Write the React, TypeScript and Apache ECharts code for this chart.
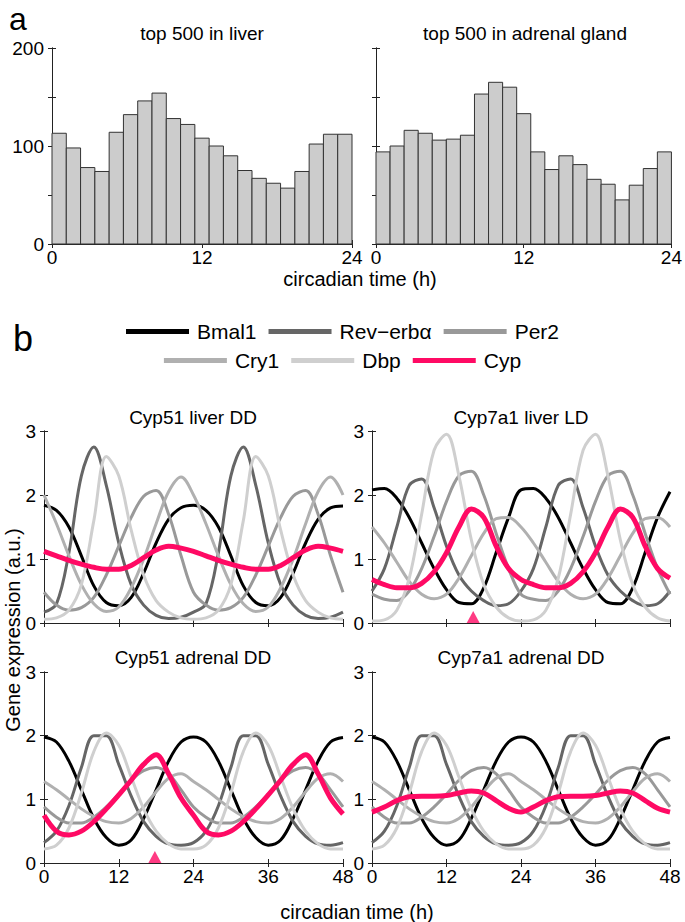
import React, { useEffect, useRef } from "react";
import * as echarts from "echarts";

const FONT = "'Liberation Sans', Arial, Helvetica, sans-serif";
const PINK = "#ff0a64";
const AXIS = "#222222";

// ---------- panel a : histograms (21 bins over 0-24 h) ----------
const liverCounts = [113, 98, 78, 74, 114, 132, 146, 154, 128, 122, 108, 100, 90, 75, 67, 62, 57, 74, 102, 112, 112];
const adrenalCounts = [94, 100, 116, 113, 106, 107, 111, 153, 165, 160, 133, 94, 76, 90, 81, 66, 61, 45, 60, 77, 94];

// ---------- panel b : expression profiles, sampled every 2 h ----------
const hours = [0, 2, 4, 6, 8, 10, 12, 14, 16, 18, 20, 22, 24, 26, 28, 30, 32, 34, 36, 38, 40, 42, 44, 46, 48];

const liverDDBmal1 = [1.84, 1.76, 1.5, 1.05, 0.58, 0.32, 0.27, 0.4, 0.78, 1.25, 1.62, 1.8, 1.84, 1.76, 1.5, 1.05, 0.58, 0.32, 0.27, 0.4, 0.78, 1.25, 1.62, 1.8, 1.83];
const liverDDRev = [0.17, 0.3, 1.1, 2.3, 2.75, 2.15, 1.25, 0.6, 0.28, 0.12, 0.07, 0.09, 0.17, 0.3, 1.1, 2.3, 2.75, 2.15, 1.25, 0.6, 0.28, 0.12, 0.07, 0.09, 0.17];
const liverDDPer2 = [0.48, 0.28, 0.2, 0.24, 0.4, 0.75, 1.2, 1.65, 1.98, 2.07, 1.7, 1.05, 0.48, 0.28, 0.2, 0.24, 0.4, 0.75, 1.2, 1.65, 1.98, 2.07, 1.7, 1.05, 0.48];
const liverDDCry1 = [2.0, 1.55, 1.05, 0.6, 0.3, 0.18, 0.25, 0.55, 1.0, 1.55, 2.05, 2.28, 2.0, 1.55, 1.05, 0.6, 0.3, 0.18, 0.25, 0.55, 1.0, 1.55, 2.05, 2.28, 2.0];
const liverDDDbp = [0.06, 0.08, 0.2, 0.6, 1.6, 2.6, 2.3, 1.45, 0.75, 0.35, 0.17, 0.08, 0.06, 0.08, 0.2, 0.6, 1.6, 2.6, 2.3, 1.45, 0.75, 0.35, 0.17, 0.08, 0.06];
const liverDDCyp51 = [1.12, 1.05, 0.98, 0.92, 0.87, 0.84, 0.84, 0.9, 1.02, 1.14, 1.2, 1.17, 1.12, 1.05, 0.98, 0.92, 0.87, 0.84, 0.84, 0.9, 1.02, 1.14, 1.2, 1.17, 1.12];

const liverLDBmal1 = [2.08, 2.1, 1.95, 1.65, 1.25, 0.85, 0.52, 0.32, 0.3, 0.55, 1.1, 1.65, 2.08, 2.1, 1.95, 1.65, 1.25, 0.85, 0.52, 0.32, 0.3, 0.55, 1.1, 1.65, 2.05];
const liverLDRev = [0.5, 0.85, 1.5, 2.15, 2.25, 1.8, 1.2, 0.75, 0.5, 0.35, 0.27, 0.3, 0.5, 0.85, 1.5, 2.15, 2.25, 1.8, 1.2, 0.75, 0.5, 0.35, 0.27, 0.3, 0.5];
const liverLDPer2 = [0.45, 0.37, 0.35, 0.5, 0.85, 1.35, 1.9, 2.3, 2.37, 2.0, 1.4, 0.85, 0.45, 0.37, 0.35, 0.5, 0.85, 1.35, 1.9, 2.3, 2.37, 2.0, 1.4, 0.85, 0.45];
const liverLDCry1 = [1.5, 1.25, 0.95, 0.65, 0.45, 0.38, 0.45, 0.7, 1.05, 1.4, 1.63, 1.65, 1.5, 1.25, 0.95, 0.65, 0.45, 0.38, 0.45, 0.7, 1.05, 1.4, 1.63, 1.65, 1.5];
const liverLDDbp = [0.03, 0.05, 0.2, 0.7, 1.7, 2.7, 2.95, 2.3, 1.3, 0.6, 0.25, 0.08, 0.03, 0.05, 0.2, 0.7, 1.7, 2.7, 2.95, 2.3, 1.3, 0.6, 0.25, 0.08, 0.03];
const liverLDCyp7a1 = [0.68, 0.6, 0.55, 0.55, 0.62, 0.8, 1.1, 1.5, 1.78, 1.65, 1.2, 0.85, 0.68, 0.6, 0.55, 0.55, 0.62, 0.8, 1.1, 1.5, 1.78, 1.65, 1.2, 0.85, 0.7];

const adrenalBmal1 = [1.98, 1.9, 1.6, 1.15, 0.7, 0.4, 0.28, 0.36, 0.7, 1.15, 1.6, 1.9, 1.98, 1.9, 1.6, 1.15, 0.7, 0.4, 0.28, 0.36, 0.7, 1.15, 1.6, 1.9, 1.97];
const adrenalRev = [0.32, 0.5, 0.9, 1.5, 2.0, 2.0, 1.55, 1.05, 0.65, 0.42, 0.3, 0.28, 0.32, 0.5, 0.9, 1.5, 2.0, 2.0, 1.55, 1.05, 0.65, 0.42, 0.3, 0.28, 0.32];
const adrenalPer2 = [0.88, 0.72, 0.63, 0.63, 0.72, 0.88, 1.08, 1.3, 1.45, 1.5, 1.4, 1.15, 0.88, 0.72, 0.63, 0.63, 0.72, 0.88, 1.08, 1.3, 1.45, 1.5, 1.4, 1.15, 0.88];
const adrenalCry1 = [1.28, 1.15, 1.0, 0.85, 0.73, 0.65, 0.63, 0.7, 0.88, 1.12, 1.33, 1.4, 1.28, 1.15, 1.0, 0.85, 0.73, 0.65, 0.63, 0.7, 0.88, 1.12, 1.33, 1.4, 1.28];
const adrenalDbp = [0.22, 0.28, 0.55, 1.1, 1.75, 2.04, 1.85, 1.35, 0.85, 0.5, 0.3, 0.22, 0.22, 0.28, 0.55, 1.1, 1.75, 2.04, 1.85, 1.35, 0.85, 0.5, 0.3, 0.22, 0.22];
const adrenalCyp51 = [0.75, 0.5, 0.44, 0.5, 0.65, 0.85, 1.07, 1.3, 1.55, 1.7, 1.4, 1.02, 0.75, 0.5, 0.44, 0.5, 0.65, 0.85, 1.07, 1.3, 1.55, 1.7, 1.4, 1.02, 0.77];
const adrenalCyp7a1 = [0.8, 0.88, 0.98, 1.04, 1.05, 1.05, 1.06, 1.1, 1.13, 1.1, 0.98, 0.86, 0.8, 0.88, 0.98, 1.04, 1.05, 1.05, 1.06, 1.1, 1.13, 1.1, 0.98, 0.86, 0.8];

// peak markers (triangles)
const liverLDCypPeak = 16.3;
const adrenalCyp51Peak = 17.8;

const geneNames = ["Bmal1", "Rev\u2212erb\u03b1", "Per2", "Cry1", "Dbp", "Cyp"];
const geneColors = ["#000000", "#666666", "#999999", "#b0b0b0", "#cfcfcf", PINK];

const panelTitles = ["Cyp51 liver DD", "Cyp7a1 liver LD", "Cyp51 adrenal DD", "Cyp7a1 adrenal DD"];
const histTitles = ["top 500 in liver", "top 500 in adrenal gland"];

function buildOption() {
  const grids: any[] = [];
  const xAxes: any[] = [];
  const yAxes: any[] = [];
  const series: any[] = [];

  const lineStyle = { color: AXIS, width: 1 };
  const labelStyle = { color: "#000", fontSize: 19, fontFamily: FONT };

  function addGrid(
    rect: { left: number; top: number; width: number; height: number },
    x: { min: number; max: number; interval: number; labels: boolean },
    y: { min: number; max: number; interval: number; labels: boolean; fmt?: (v: number) => string }
  ) {
    const g = grids.length;
    grids.push({ ...rect, containLabel: false });
    const xBase = {
      type: "value", gridIndex: g, min: x.min, max: x.max, interval: x.interval,
      axisLine: { show: true, lineStyle }, splitLine: { show: false },
      axisTick: { show: true, inside: true, length: 4, lineStyle },
    };
    xAxes.push({ ...xBase, position: "bottom", axisLabel: { show: x.labels, margin: 4, ...labelStyle } });
    xAxes.push({ ...xBase, position: "top", axisLabel: { show: false } });
    const yBase = {
      type: "value", gridIndex: g, min: y.min, max: y.max, interval: y.interval,
      axisLine: { show: true, lineStyle }, splitLine: { show: false },
      axisTick: { show: true, inside: true, length: 4, lineStyle },
    };
    yAxes.push({ ...yBase, position: "left", axisLabel: { show: y.labels, margin: 8, formatter: y.fmt, ...labelStyle } });
    yAxes.push({ ...yBase, position: "right", axisLabel: { show: false } });
    return g;
  }

  // histogram grids
  const histFmt = (v: number) => (v % 100 === 0 ? String(v) : "");
  const hg0 = addGrid({ left: 52, top: 48, width: 300, height: 196 }, { min: 0, max: 24, interval: 12, labels: true }, { min: 0, max: 200, interval: 50, labels: true, fmt: histFmt });
  const hg1 = addGrid({ left: 376, top: 48, width: 298, height: 196 }, { min: 0, max: 24, interval: 12, labels: true }, { min: 0, max: 200, interval: 50, labels: false });

  const histSeries = (g: number, counts: number[]) => {
    const w = 24 / counts.length;
    return {
      type: "custom",
      xAxisIndex: g * 2,
      yAxisIndex: g * 2,
      data: counts.map((c, i) => [i * w, (i + 1) * w, c]),
      encode: { x: [0, 1], y: 2 },
      renderItem: (params: any, api: any) => {
        const p0 = api.coord([api.value(0), api.value(2)]);
        const p1 = api.coord([api.value(1), 0]);
        return {
          type: "rect",
          shape: { x: p0[0], y: p0[1], width: p1[0] - p0[0], height: p1[1] - p0[1] },
          style: { fill: "#cccccc", stroke: "#333333", lineWidth: 1 },
        };
      },
    };
  };
  series.push(histSeries(hg0, liverCounts));
  series.push(histSeries(hg1, adrenalCounts));

  // expression grids
  const ex = { min: 0, max: 48, interval: 12 };
  const ey = { min: 0, max: 3, interval: 1, labels: true };
  const g2 = addGrid({ left: 44, top: 431, width: 299, height: 192 }, { ...ex, labels: false }, ey);
  const g3 = addGrid({ left: 372, top: 431, width: 298, height: 192 }, { ...ex, labels: false }, ey);
  const g4 = addGrid({ left: 44, top: 672, width: 299, height: 191 }, { ...ex, labels: true }, ey);
  const g5 = addGrid({ left: 372, top: 672, width: 298, height: 191 }, { ...ex, labels: true }, ey);

  const panels = [
    { g: g2, sets: [liverDDBmal1, liverDDRev, liverDDPer2, liverDDCry1, liverDDDbp, liverDDCyp51] },
    { g: g3, sets: [liverLDBmal1, liverLDRev, liverLDPer2, liverLDCry1, liverLDDbp, liverLDCyp7a1] },
    { g: g4, sets: [adrenalBmal1, adrenalRev, adrenalPer2, adrenalCry1, adrenalDbp, adrenalCyp51] },
    { g: g5, sets: [adrenalBmal1, adrenalRev, adrenalPer2, adrenalCry1, adrenalDbp, adrenalCyp7a1] },
  ];
  panels.forEach((p) => {
    p.sets.forEach((vals, k) => {
      series.push({
        type: "line",
        name: geneNames[k],
        xAxisIndex: p.g * 2,
        yAxisIndex: p.g * 2,
        data: hours.map((h, i) => [h, vals[i]]),
        smooth: 0.35,
        symbol: "none",
        color: geneColors[k],
        lineStyle: { color: geneColors[k], width: k === 5 ? 5 : 3 },
        z: 2 + k,
      });
    });
  });

  const tri = (g: number, t: number) => ({
    type: "scatter",
    xAxisIndex: g * 2,
    yAxisIndex: g * 2,
    data: [[t, 0]],
    symbol: "triangle",
    symbolSize: [13, 12],
    symbolOffset: [0, -6],
    itemStyle: { color: PINK },
    z: 10,
  });
  series.push(tri(g3, liverLDCypPeak));
  series.push(tri(g4, adrenalCyp51Peak));

  const text = (t: string, x: number, y: number, size: number, extra: any = {}) => ({
    type: "text",
    x,
    y,
    ...extra,
    style: { text: t, fontSize: size, fontFamily: FONT, fill: "#000", align: "center", verticalAlign: "middle" },
  });

  const graphic = [
    text("a", 18, 19, 32),
    text("b", 23, 338, 36),
    text(histTitles[0], 202, 33, 19),
    text(histTitles[1], 525, 33, 19),
    text("circadian time (h)", 360, 279, 20),
    text(panelTitles[0], 193, 417, 19),
    text(panelTitles[1], 521, 417, 19),
    text(panelTitles[2], 193, 657, 19),
    text(panelTitles[3], 521, 657, 19),
    text("circadian time (h)", 357, 912, 20),
    text("Gene expression (a.u.)", 13, 630, 20, { rotation: Math.PI / 2 }),
  ];

  const legendBase = {
    left: "center",
    orient: "horizontal",
    selectedMode: false,
    icon: "rect",
    itemWidth: 63,
    itemHeight: 5,
    itemGap: 12,
    textStyle: { fontSize: 21, fontFamily: FONT, color: "#000", padding: [0, 0, 0, 3] },
  };

  return {
    animation: false,
    backgroundColor: "#ffffff",
    grid: grids,
    xAxis: xAxes,
    yAxis: yAxes,
    series,
    graphic,
    legend: [
      { ...legendBase, top: 316, data: geneNames.slice(0, 3) },
      { ...legendBase, top: 345, data: geneNames.slice(3) },
    ],
  };
}

export default function App() {
  const ref = useRef<HTMLDivElement>(null);
  useEffect(() => {
    document.body.style.margin = "0";
    const chart = echarts.init(ref.current!, null, { renderer: "svg" });
    chart.setOption(buildOption() as any);
    return () => chart.dispose();
  }, []);
  return <div ref={ref} style={{ width: 685, height: 922 }} />;
}
